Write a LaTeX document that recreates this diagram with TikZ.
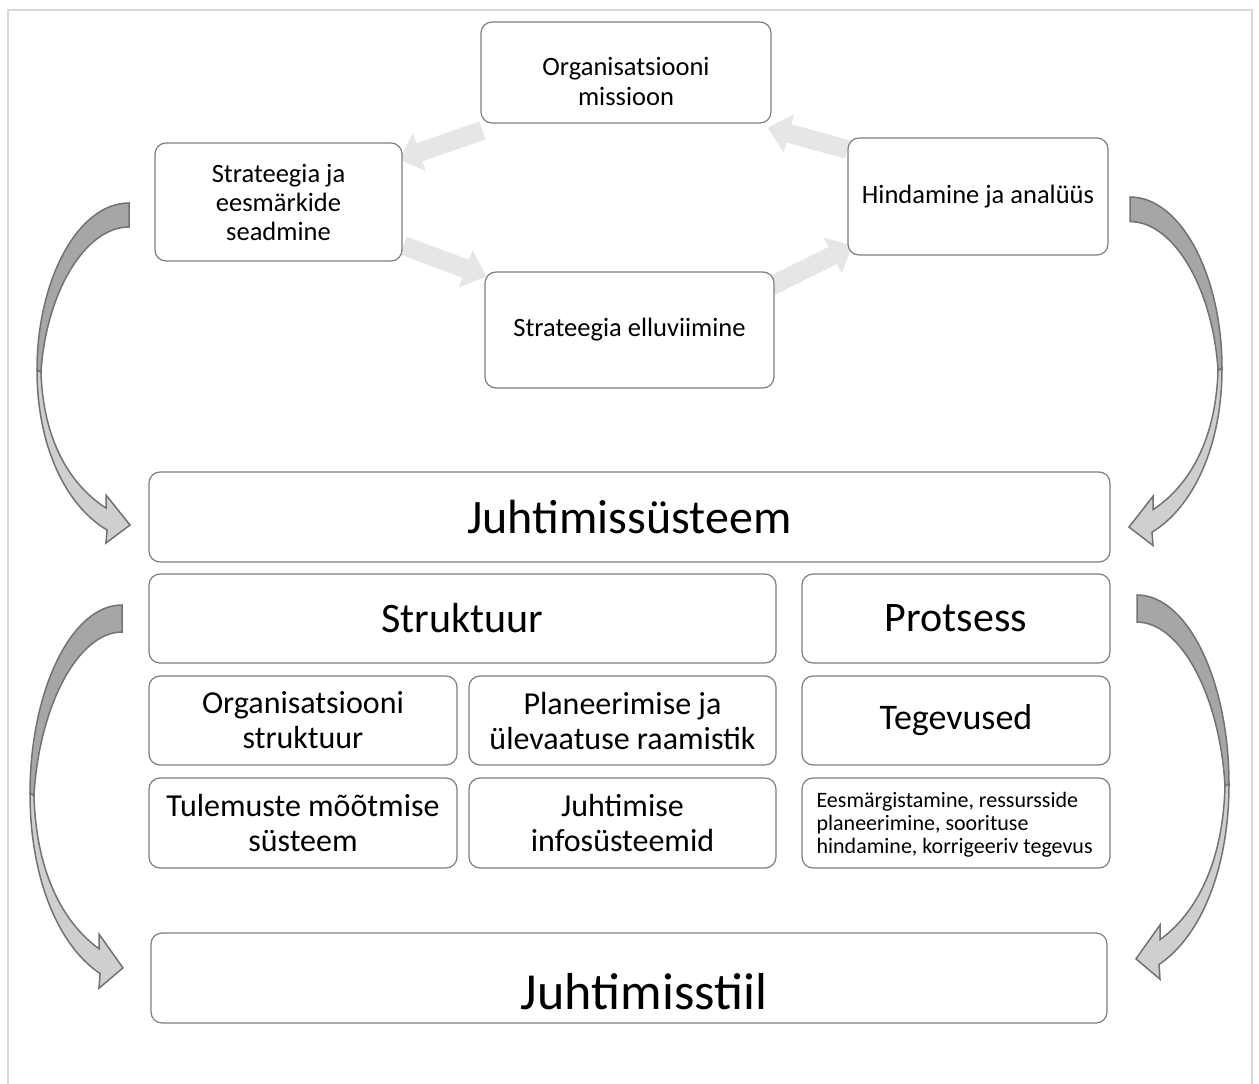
\documentclass[tikz,border=0pt]{standalone}
\usepackage{fontspec}
\setmainfont{Carlito}
\usetikzlibrary{decorations.markings,backgrounds,calc}
\definecolor{boxline}{HTML}{7F7F7F}
\definecolor{cycgray}{HTML}{E6E6E6}
\definecolor{darkarr}{HTML}{A6A6A6}
\definecolor{lightarr}{HTML}{D0CECE}
\definecolor{arredge}{HTML}{767171}
\definecolor{framegray}{HTML}{D9D9D9}
\newcommand\myfs[2]{\fontsize{#1}{#2}\selectfont}
\newcommand\curvedarr[1]{%
  \begin{scope}[#1]
    \filldraw[lightarrstyle] (-92,167) .. controls (-92,242) and (-64,302) .. (-22,327)
      -- (-23,340) -- (1,322) -- (-23,292) -- (-23,305)
      .. controls (-59,282) and (-86,237) .. (-88,169) -- cycle;
    \filldraw[darkarrstyle] (0,0) .. controls (-51,0) and (-92,77) .. (-92,167)
      -- (-88,169) .. controls (-83,90) and (-44,24) .. (0,24) -- cycle;
  \end{scope}}
\begin{document}
\begin{tikzpicture}[x=1pt,y=-1pt,
  box/.style={draw=boxline, line width=1.2pt, rounded corners=11pt, fill=white, inner sep=0pt, align=center},
  txt/.style={inner sep=0pt, align=center},
  lightarrstyle/.style={fill=lightarr, draw=arredge, line width=1.5pt, line join=miter},
  darkarrstyle/.style={fill=darkarr, draw=arredge, line width=1.5pt, line join=miter},
  cycarrow/.style={draw=cycgray, line width=19pt, shorten >=20pt,
    postaction={decorate},
    decoration={markings, mark=at position 1 with {\fill[cycgray] (-22,-20) -- (0,0) -- (-22,20) -- cycle;}}}]
\useasboundingbox (0,0) rectangle (1259,1084);
\draw[framegray, line width=2pt] (7.5,9.5) rectangle (1252,1110);

% cycle boxes
\node[box, minimum width=290pt, minimum height=101pt] (mis) at (626,72.5) {};
\node[txt, font=\myfs{26.5}{30}] (mistxt) at (626,81) {Organisatsiooni\\missioon};
\node[box, minimum width=247pt, minimum height=118pt, font=\myfs{26.5}{29}] (str) at (278.5,202) {Strateegia ja\\eesmärkide\\seadmine};
\node[box, minimum width=260pt, minimum height=117pt, font=\myfs{26.5}{29}] (hin) at (978,196.5) {Hindamine ja analüüs};
\node[box, minimum width=289pt, minimum height=116pt, font=\myfs{26.5}{29}] (ell) at (629.5,330) {Strateegia elluviimine};

% cycle arrows
\begin{scope}[on background layer]
\draw[cycarrow] ($(mis.south west)+(2,7)$) -- ($(str.north east)+(-4,17)$);
\draw[cycarrow] ($(str.south east)+(1,-16)$) -- ($(ell.north west)+(2,5)$);
\draw[cycarrow] ($(ell.north east)+(-4,15)$) -- ($(hin.south west)+(5,-10)$);
\draw[cycarrow] ($(hin.north west)+(0,12)$) -- ($(mis.south east)+(-4,4)$);
\end{scope}

% lower blocks
\node[box, minimum width=961pt, minimum height=90pt, font=\myfs{48}{56}] (sys) at (629.5,517) {Juhtimissüsteem};
\node[box, minimum width=627pt, minimum height=89pt, font=\myfs{42}{50}] (stk) at (462.5,618.5) {Struktuur};
\node[box, minimum width=308pt, minimum height=89pt, font=\myfs{42}{50}] (pro) at (956,618.5) {Protsess};
\node[box, minimum width=308pt, minimum height=89pt, font=\myfs{32}{35}] (ors) at (303,720.5) {Organisatsiooni\\struktuur};
\node[box, minimum width=307pt, minimum height=89pt, font=\myfs{32}{35}] (pla) at (622.5,720.5) {Planeerimise ja\\ülevaatuse raamistik};
\node[box, minimum width=308pt, minimum height=89pt, font=\myfs{36}{42}] (teg) at (956,720.5) {Tegevused};
\node[box, minimum width=308pt, minimum height=90pt, font=\myfs{32}{35}] (tul) at (303,823) {Tulemuste mõõtmise\\süsteem};
\node[box, minimum width=307pt, minimum height=90pt, font=\myfs{32}{35}] (jis) at (622.5,823) {Juhtimise\\infosüsteemid};
\node[box, minimum width=308pt, minimum height=90pt] (ees) at (956,823) {};
\node[txt, anchor=west, align=left, font=\myfs{22}{23}] (eestxt) at ($(ees.west)+(15,2)$) {Eesmärgistamine, ressursside\\planeerimine, soorituse\\hindamine, korrigeeriv tegevus};
\node[box, minimum width=956pt, minimum height=90pt] (sti) at (629,978) {};
\node[txt, font=\myfs{52}{60}] (stitxt) at (644,992) {Juhtimisstiil};

% big curved arrows
\curvedarr{shift={(129,203)}}
\curvedarr{shift={(1130,197)}, xscale=-1, yscale=1.025}
\curvedarr{shift={(122,605)}, yscale=1.127}
\curvedarr{shift={(1137,595)}, xscale=-1, yscale=1.13}
\end{tikzpicture}
\end{document}
